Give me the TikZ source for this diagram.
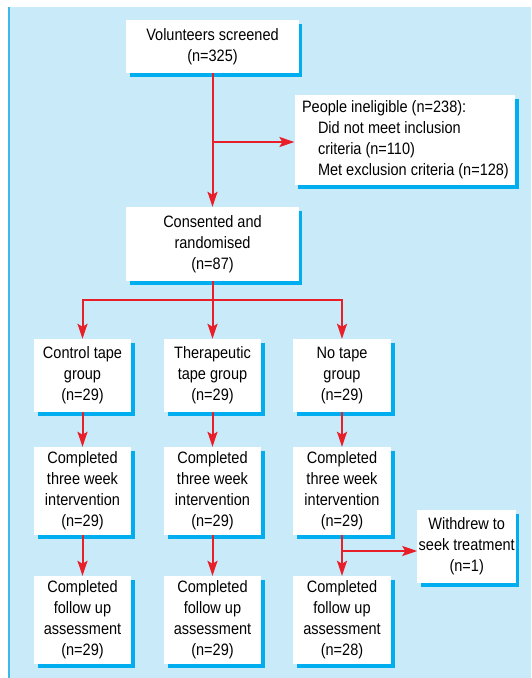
\documentclass[tikz,border=0pt]{standalone}
\usepackage{fontspec}
\setmainfont{Liberation Sans}[FakeStretch=0.88]
\usetikzlibrary{arrows.meta,shadows}
\definecolor{bgblue}{RGB}{200,234,249}
\definecolor{edgeblue}{RGB}{60,185,236}
\definecolor{shadowblue}{RGB}{0,174,239}
\definecolor{arrred}{RGB}{232,30,40}
\tikzset{
  box/.style={fill=white, inner sep=0pt, align=center,
    font=\fontsize{16.5}{21}\selectfont,
    drop shadow={shadow xshift=3.5pt, shadow yshift=-3.5pt, fill=shadowblue, opacity=1}},
  link/.style={draw=arrred, line width=2pt},
  arr/.style={link, -{Stealth[length=15pt,width=10pt,inset=3pt]}}
}
\begin{document}
\begin{tikzpicture}[x=1pt,y=-1pt]
\useasboundingbox (0,0) rectangle (531,678);
\fill[bgblue] (8,7) rectangle (531,678);
\draw[edgeblue, line width=1.8pt] (8.9,7) -- (8.9,678);

\node[box, minimum width=172.7pt, minimum height=52.7pt] (scr) at (212.5,46.7) {Volunteers screened\\(n=325)};
\node[box, minimum width=220.4pt, minimum height=90pt, inner xsep=7.4pt, text width=205.6pt, align=flush left] (inel) at (404.8,140)
  {\mbox{People ineligible (n=238):}\\\mbox{\hspace*{16pt}Did not meet inclusion}\\\mbox{\hspace*{16pt}criteria (n=110)}\\\mbox{\hspace*{16pt}Met exclusion criteria (n=128)}};
\node[box, minimum width=172.7pt, minimum height=74pt] (cons) at (212.5,244) {Consented and\\randomised\\(n=87)};

\node[box, minimum width=97pt, minimum height=73pt] (ctl) at (82.5,375.5) {Control tape\\group\\(n=29)};
\node[box, minimum width=97pt, minimum height=73pt] (ther) at (212.5,375.5) {Therapeutic\\tape group\\(n=29)};
\node[box, minimum width=98pt, minimum height=73pt] (none) at (342,375.5) {No tape\\group\\(n=29)};

\node[box, minimum width=97pt, minimum height=88pt] (ctlc) at (82.5,491) {Completed\\three week\\intervention\\(n=29)};
\node[box, minimum width=97pt, minimum height=88pt] (therc) at (212.5,491) {Completed\\three week\\intervention\\(n=29)};
\node[box, minimum width=98pt, minimum height=88pt] (nonec) at (342,491) {Completed\\three week\\intervention\\(n=29)};

\node[box, minimum width=98.5pt, minimum height=73pt] (wd) at (466.7,546.5) {Withdrew to\\seek treatment\\(n=1)};

\node[box, minimum width=97pt, minimum height=88pt] (ctlf) at (82.5,620) {Completed\\follow up\\assessment\\(n=29)};
\node[box, minimum width=97pt, minimum height=88pt] (therf) at (212.5,620) {Completed\\follow up\\assessment\\(n=29)};
\node[box, minimum width=98pt, minimum height=88pt] (nonef) at (342,620) {Completed\\follow up\\assessment\\(n=28)};

\coordinate (b1) at (212.5,142);
\coordinate (b2) at (212.5,300);
\coordinate (b3) at (342,551);

\draw[arr] (scr.south) -- (cons.north);
\draw[arr] (b1) -- (b1 -| inel.west);
\draw[link] (cons.south) -- (b2);
\draw[arr] (b2) -- (ther.north);
\draw[arr] (b2) -| (ctl.north);
\draw[arr] (b2) -| (none.north);

\draw[arr] (ctl.south) -- (ctlc.north);
\draw[arr] (ther.south) -- (therc.north);
\draw[arr] (none.south) -- (nonec.north);

\draw[arr] (ctlc.south) -- (ctlf.north);
\draw[arr] (therc.south) -- (therf.north);
\draw[arr] (nonec.south) -- (nonef.north);
\draw[arr] (b3) -- (b3 -| wd.west);
\end{tikzpicture}
\end{document}
